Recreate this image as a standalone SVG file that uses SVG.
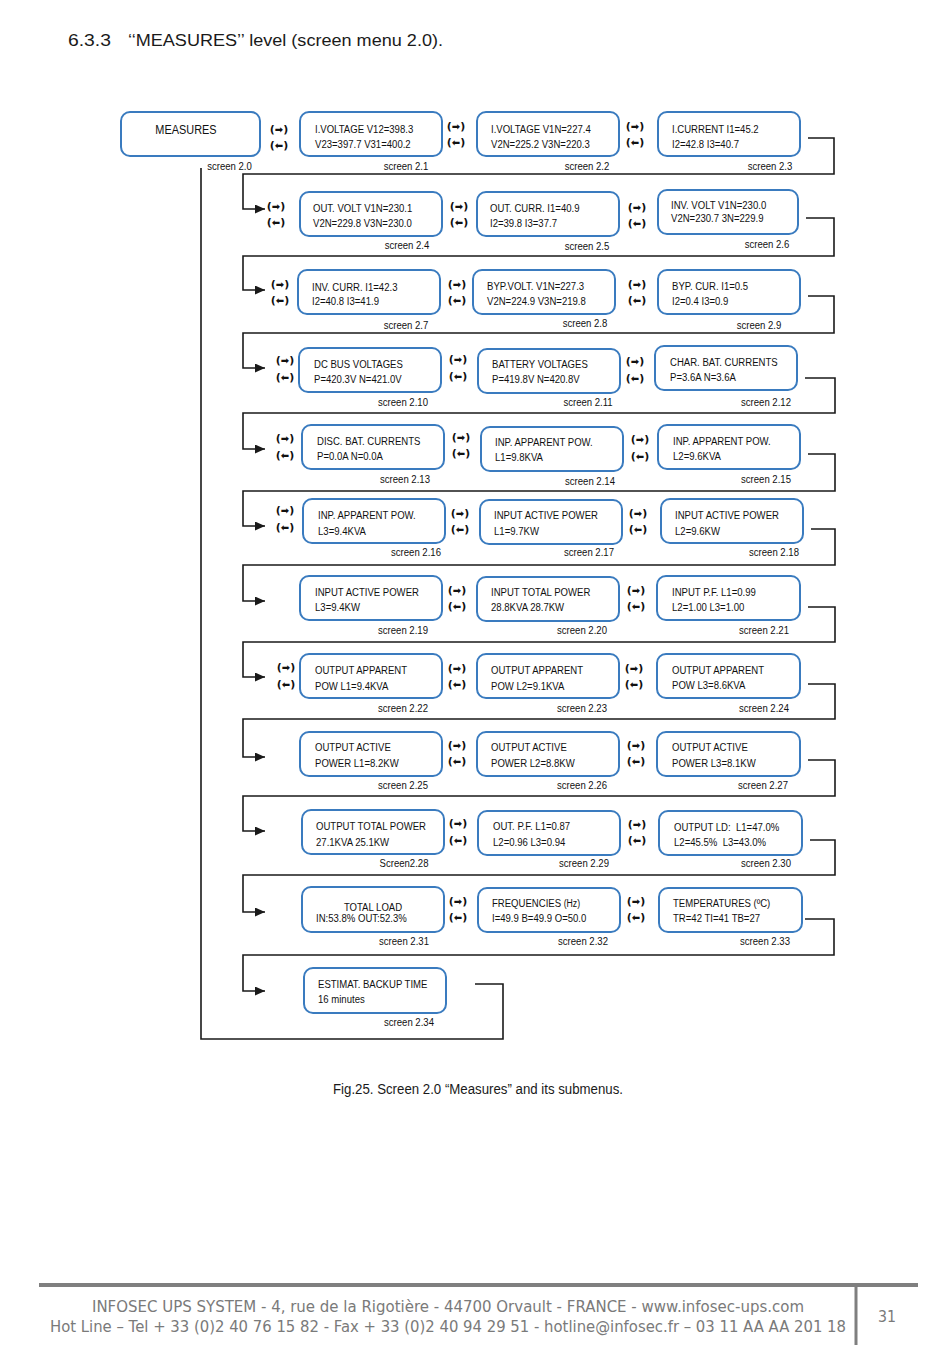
<svg xmlns="http://www.w3.org/2000/svg" width="950" height="1360" viewBox="0 0 950 1360">
<style>
.bg{fill:#fff}
.box{fill:#fff;stroke:#3a7bbf;stroke-width:2}
.t{font-family:"Liberation Sans",Arial,sans-serif;font-size:11px;fill:#111;white-space:pre}
.m{font-family:"Liberation Sans",Arial,sans-serif;font-size:13px;fill:#111;text-anchor:middle}
.lb{font-family:"Liberation Sans",Arial,sans-serif;font-size:11px;fill:#111;text-anchor:middle}
.ar{font-family:"DejaVu Sans",sans-serif;font-weight:bold;font-size:11px;fill:#111;text-anchor:middle}
.ag{font-size:10px}
.cn{fill:none;stroke:#1a1a1a;stroke-width:1.6}
.ti{font-family:"Liberation Sans",Arial,sans-serif;font-size:16px;fill:#1a1a1a}
.cap{font-family:"Liberation Sans",Arial,sans-serif;font-size:14px;fill:#1a1a1a}
.ft{font-family:"DejaVu Sans",sans-serif;font-size:15px;fill:#7a7a7a}
</style>
<defs>
<marker id="ah" markerWidth="10" markerHeight="9" refX="10" refY="4.5" orient="auto" markerUnits="userSpaceOnUse">
<path d="M0,0 L10,4.5 L0,9 z" fill="#1a1a1a"/>
</marker>
</defs>
<rect class="bg" x="0" y="0" width="950" height="1360"/>

<text class="ti" x="68" y="46" textLength="43" lengthAdjust="spacingAndGlyphs">6.3.3</text>
<text class="ti" x="128" y="46" textLength="315" lengthAdjust="spacingAndGlyphs">‘‘MEASURES’’ level (screen menu 2.0).</text>

<g id="connectors">
<path class="cn" d="M808 138 H834 V174 H243 V209 H265" marker-end="url(#ah)"/>
<path class="cn" d="M806 218 H834 V256 H243 V290 H265" marker-end="url(#ah)"/>
<path class="cn" d="M808 296 H834 V333 H243 V368 H265" marker-end="url(#ah)"/>
<path class="cn" d="M805 378 H835 V413 H243 V449 H265" marker-end="url(#ah)"/>
<path class="cn" d="M808 454 H835 V491 H243 V526 H265" marker-end="url(#ah)"/>
<path class="cn" d="M811 529 H835 V565 H243 V601 H265" marker-end="url(#ah)"/>
<path class="cn" d="M808 607 H835 V642 H243 V677 H265" marker-end="url(#ah)"/>
<path class="cn" d="M808 684 H835 V719 H243 V757 H265" marker-end="url(#ah)"/>
<path class="cn" d="M808 760 H835 V796 H243 V831 H265" marker-end="url(#ah)"/>
<path class="cn" d="M810 840 H835 V875 H243 V912 H265" marker-end="url(#ah)"/>
<path class="cn" d="M805 919 H834 V955 H243 V991 H265" marker-end="url(#ah)"/>
<path class="cn" d="M475 984 H503 V1039 H201 V168"/>
</g>

<g id="nav-arrows">
<text class="ar" x="279" y="133">(<tspan class="ag">➡</tspan>)</text><text class="ar" x="279" y="149">(<tspan class="ag">⬅</tspan>)</text>
<text class="ar" x="456" y="130">(<tspan class="ag">➡</tspan>)</text><text class="ar" x="456" y="146">(<tspan class="ag">⬅</tspan>)</text>
<text class="ar" x="635" y="130">(<tspan class="ag">➡</tspan>)</text><text class="ar" x="635" y="146">(<tspan class="ag">⬅</tspan>)</text>
<text class="ar" x="276" y="210">(<tspan class="ag">➡</tspan>)</text><text class="ar" x="276" y="226">(<tspan class="ag">⬅</tspan>)</text>
<text class="ar" x="459" y="210">(<tspan class="ag">➡</tspan>)</text><text class="ar" x="459" y="226">(<tspan class="ag">⬅</tspan>)</text>
<text class="ar" x="637" y="211">(<tspan class="ag">➡</tspan>)</text><text class="ar" x="637" y="227">(<tspan class="ag">⬅</tspan>)</text>
<text class="ar" x="280" y="288">(<tspan class="ag">➡</tspan>)</text><text class="ar" x="280" y="304">(<tspan class="ag">⬅</tspan>)</text>
<text class="ar" x="457" y="288">(<tspan class="ag">➡</tspan>)</text><text class="ar" x="457" y="304">(<tspan class="ag">⬅</tspan>)</text>
<text class="ar" x="637" y="288">(<tspan class="ag">➡</tspan>)</text><text class="ar" x="637" y="304">(<tspan class="ag">⬅</tspan>)</text>
<text class="ar" x="285" y="364">(<tspan class="ag">➡</tspan>)</text><text class="ar" x="285" y="381">(<tspan class="ag">⬅</tspan>)</text>
<text class="ar" x="458" y="363">(<tspan class="ag">➡</tspan>)</text><text class="ar" x="458" y="380">(<tspan class="ag">⬅</tspan>)</text>
<text class="ar" x="635" y="365">(<tspan class="ag">➡</tspan>)</text><text class="ar" x="635" y="382">(<tspan class="ag">⬅</tspan>)</text>
<text class="ar" x="285" y="442">(<tspan class="ag">➡</tspan>)</text><text class="ar" x="285" y="459">(<tspan class="ag">⬅</tspan>)</text>
<text class="ar" x="461" y="441">(<tspan class="ag">➡</tspan>)</text><text class="ar" x="461" y="457">(<tspan class="ag">⬅</tspan>)</text>
<text class="ar" x="640" y="443">(<tspan class="ag">➡</tspan>)</text><text class="ar" x="640" y="460">(<tspan class="ag">⬅</tspan>)</text>
<text class="ar" x="285" y="514">(<tspan class="ag">➡</tspan>)</text><text class="ar" x="285" y="531">(<tspan class="ag">⬅</tspan>)</text>
<text class="ar" x="460" y="517">(<tspan class="ag">➡</tspan>)</text><text class="ar" x="460" y="533">(<tspan class="ag">⬅</tspan>)</text>
<text class="ar" x="638" y="517">(<tspan class="ag">➡</tspan>)</text><text class="ar" x="638" y="533">(<tspan class="ag">⬅</tspan>)</text>
<text class="ar" x="457" y="594">(<tspan class="ag">➡</tspan>)</text><text class="ar" x="457" y="610">(<tspan class="ag">⬅</tspan>)</text>
<text class="ar" x="636" y="594">(<tspan class="ag">➡</tspan>)</text><text class="ar" x="636" y="610">(<tspan class="ag">⬅</tspan>)</text>
<text class="ar" x="286" y="671">(<tspan class="ag">➡</tspan>)</text><text class="ar" x="286" y="688">(<tspan class="ag">⬅</tspan>)</text>
<text class="ar" x="457" y="672">(<tspan class="ag">➡</tspan>)</text><text class="ar" x="457" y="688">(<tspan class="ag">⬅</tspan>)</text>
<text class="ar" x="634" y="672">(<tspan class="ag">➡</tspan>)</text><text class="ar" x="634" y="688">(<tspan class="ag">⬅</tspan>)</text>
<text class="ar" x="457" y="749">(<tspan class="ag">➡</tspan>)</text><text class="ar" x="457" y="765">(<tspan class="ag">⬅</tspan>)</text>
<text class="ar" x="636" y="749">(<tspan class="ag">➡</tspan>)</text><text class="ar" x="636" y="765">(<tspan class="ag">⬅</tspan>)</text>
<text class="ar" x="458" y="827">(<tspan class="ag">➡</tspan>)</text><text class="ar" x="458" y="844">(<tspan class="ag">⬅</tspan>)</text>
<text class="ar" x="637" y="828">(<tspan class="ag">➡</tspan>)</text><text class="ar" x="637" y="844">(<tspan class="ag">⬅</tspan>)</text>
<text class="ar" x="458" y="905">(<tspan class="ag">➡</tspan>)</text><text class="ar" x="458" y="921">(<tspan class="ag">⬅</tspan>)</text>
<text class="ar" x="636" y="905">(<tspan class="ag">➡</tspan>)</text><text class="ar" x="636" y="921">(<tspan class="ag">⬅</tspan>)</text>
</g>

<g id="s2_0"><rect class="box" x="121" y="112" width="139" height="44" rx="9"/>
<text class="m" transform="translate(186 134) scale(.84 1)">MEASURES</text>
<text class="lb" transform="translate(229.5 170) scale(.87 1)">screen 2.0</text></g>

<g id="s2_1"><rect class="box" x="300" y="112" width="142" height="44" rx="9"/>
<text class="t" transform="translate(315 133) scale(.87 1)">I.VOLTAGE V12=398.3</text>
<text class="t" transform="translate(315 148) scale(.87 1)">V23=397.7 V31=400.2</text>
<text class="lb" transform="translate(406 170) scale(.87 1)">screen 2.1</text></g>

<g id="s2_2"><rect class="box" x="477" y="112" width="142" height="44" rx="9"/>
<text class="t" transform="translate(491 133) scale(.87 1)">I.VOLTAGE V1N=227.4</text>
<text class="t" transform="translate(491 148) scale(.87 1)">V2N=225.2 V3N=220.3</text>
<text class="lb" transform="translate(587 170) scale(.87 1)">screen 2.2</text></g>

<g id="s2_3"><rect class="box" x="658" y="112" width="142" height="44" rx="9"/>
<text class="t" transform="translate(672 133) scale(.87 1)">I.CURRENT I1=45.2</text>
<text class="t" transform="translate(672 148) scale(.87 1)">I2=42.8 I3=40.7</text>
<text class="lb" transform="translate(770 170) scale(.87 1)">screen 2.3</text></g>

<g id="s2_4"><rect class="box" x="300" y="192" width="142" height="44" rx="9"/>
<text class="t" transform="translate(313 212) scale(.87 1)">OUT. VOLT V1N=230.1</text>
<text class="t" transform="translate(313 227) scale(.87 1)">V2N=229.8 V3N=230.0</text>
<text class="lb" transform="translate(407 249) scale(.87 1)">screen 2.4</text></g>

<g id="s2_5"><rect class="box" x="477" y="192" width="142" height="44" rx="9"/>
<text class="t" transform="translate(490 212) scale(.87 1)">OUT. CURR. I1=40.9</text>
<text class="t" transform="translate(490 227) scale(.87 1)">I2=39.8 I3=37.7</text>
<text class="lb" transform="translate(587 250) scale(.87 1)">screen 2.5</text></g>

<g id="s2_6"><rect class="box" x="658" y="190" width="140" height="44" rx="9"/>
<text class="t" transform="translate(671 209) scale(.87 1)">INV. VOLT V1N=230.0</text>
<text class="t" transform="translate(671 222) scale(.87 1)">V2N=230.7 3N=229.9</text>
<text class="lb" transform="translate(767 248) scale(.87 1)">screen 2.6</text></g>

<g id="s2_7"><rect class="box" x="298" y="270" width="142" height="44" rx="9"/>
<text class="t" transform="translate(312 291) scale(.87 1)">INV. CURR. I1=42.3</text>
<text class="t" transform="translate(312 305) scale(.87 1)">I2=40.8 I3=41.9</text>
<text class="lb" transform="translate(406 329) scale(.87 1)">screen 2.7</text></g>

<g id="s2_8"><rect class="box" x="473" y="270" width="142" height="44" rx="9"/>
<text class="t" transform="translate(487 290) scale(.87 1)">BYP.VOLT. V1N=227.3</text>
<text class="t" transform="translate(487 305) scale(.87 1)">V2N=224.9 V3N=219.8</text>
<text class="lb" transform="translate(585 327) scale(.87 1)">screen 2.8</text></g>

<g id="s2_9"><rect class="box" x="658" y="270" width="142" height="44" rx="9"/>
<text class="t" transform="translate(672 290) scale(.87 1)">BYP. CUR. I1=0.5</text>
<text class="t" transform="translate(672 305) scale(.87 1)">I2=0.4 I3=0.9</text>
<text class="lb" transform="translate(759 329) scale(.87 1)">screen 2.9</text></g>

<g id="s2_10"><rect class="box" x="299" y="348" width="142" height="44" rx="9"/>
<text class="t" transform="translate(314 368) scale(.87 1)">DC BUS VOLTAGES</text>
<text class="t" transform="translate(314 383) scale(.87 1)">P=420.3V N=421.0V</text>
<text class="lb" transform="translate(403 406) scale(.87 1)">screen 2.10</text></g>

<g id="s2_11"><rect class="box" x="478" y="349" width="142" height="44" rx="9"/>
<text class="t" transform="translate(492 368) scale(.87 1)">BATTERY VOLTAGES</text>
<text class="t" transform="translate(492 383) scale(.87 1)">P=419.8V N=420.8V</text>
<text class="lb" transform="translate(588 406) scale(.87 1)">screen 2.11</text></g>

<g id="s2_12"><rect class="box" x="655" y="346" width="142" height="44" rx="9"/>
<text class="t" transform="translate(670 366) scale(.87 1)">CHAR. BAT. CURRENTS</text>
<text class="t" transform="translate(670 381) scale(.87 1)">P=3.6A N=3.6A</text>
<text class="lb" transform="translate(766 406) scale(.87 1)">screen 2.12</text></g>

<g id="s2_13"><rect class="box" x="302" y="425" width="142" height="44" rx="9"/>
<text class="t" transform="translate(317 445) scale(.87 1)">DISC. BAT. CURRENTS</text>
<text class="t" transform="translate(317 460) scale(.87 1)">P=0.0A N=0.0A</text>
<text class="lb" transform="translate(405 483) scale(.87 1)">screen 2.13</text></g>

<g id="s2_14"><rect class="box" x="481" y="427" width="142" height="44" rx="9"/>
<text class="t" transform="translate(495 446) scale(.87 1)">INP. APPARENT POW.</text>
<text class="t" transform="translate(495 461) scale(.87 1)">L1=9.8KVA</text>
<text class="lb" transform="translate(590 485) scale(.87 1)">screen 2.14</text></g>

<g id="s2_15"><rect class="box" x="658" y="425" width="142" height="44" rx="9"/>
<text class="t" transform="translate(673 445) scale(.87 1)">INP. APPARENT POW.</text>
<text class="t" transform="translate(673 460) scale(.87 1)">L2=9.6KVA</text>
<text class="lb" transform="translate(766 483) scale(.87 1)">screen 2.15</text></g>

<g id="s2_16"><rect class="box" x="303" y="499" width="142" height="44" rx="9"/>
<text class="t" transform="translate(318 519) scale(.87 1)">INP. APPARENT POW.</text>
<text class="t" transform="translate(318 535) scale(.87 1)">L3=9.4KVA</text>
<text class="lb" transform="translate(416 556) scale(.87 1)">screen 2.16</text></g>

<g id="s2_17"><rect class="box" x="480" y="500" width="142" height="44" rx="9"/>
<text class="t" transform="translate(494 519) scale(.87 1)">INPUT ACTIVE POWER</text>
<text class="t" transform="translate(494 535) scale(.87 1)">L1=9.7KW</text>
<text class="lb" transform="translate(589 556) scale(.87 1)">screen 2.17</text></g>

<g id="s2_18"><rect class="box" x="661" y="499" width="142" height="44" rx="9"/>
<text class="t" transform="translate(675 519) scale(.87 1)">INPUT ACTIVE POWER</text>
<text class="t" transform="translate(675 535) scale(.87 1)">L2=9.6KW</text>
<text class="lb" transform="translate(774 556) scale(.87 1)">screen 2.18</text></g>

<g id="s2_19"><rect class="box" x="300" y="576" width="142" height="44" rx="9"/>
<text class="t" transform="translate(315 596) scale(.87 1)">INPUT ACTIVE POWER</text>
<text class="t" transform="translate(315 611) scale(.87 1)">L3=9.4KW</text>
<text class="lb" transform="translate(403 634) scale(.87 1)">screen 2.19</text></g>

<g id="s2_20"><rect class="box" x="477" y="577" width="142" height="44" rx="9"/>
<text class="t" transform="translate(491 596) scale(.87 1)">INPUT TOTAL POWER</text>
<text class="t" transform="translate(491 611) scale(.87 1)">28.8KVA 28.7KW</text>
<text class="lb" transform="translate(582 634) scale(.87 1)">screen 2.20</text></g>

<g id="s2_21"><rect class="box" x="657" y="576" width="143" height="44" rx="9"/>
<text class="t" transform="translate(672 596) scale(.87 1)">INPUT P.F. L1=0.99</text>
<text class="t" transform="translate(672 611) scale(.87 1)">L2=1.00 L3=1.00</text>
<text class="lb" transform="translate(764 634) scale(.87 1)">screen 2.21</text></g>

<g id="s2_22"><rect class="box" x="300" y="654" width="142" height="44" rx="9"/>
<text class="t" transform="translate(315 674) scale(.87 1)">OUTPUT APPARENT</text>
<text class="t" transform="translate(315 690) scale(.87 1)">POW L1=9.4KVA</text>
<text class="lb" transform="translate(403 712) scale(.87 1)">screen 2.22</text></g>

<g id="s2_23"><rect class="box" x="477" y="654" width="142" height="44" rx="9"/>
<text class="t" transform="translate(491 674) scale(.87 1)">OUTPUT APPARENT</text>
<text class="t" transform="translate(491 690) scale(.87 1)">POW L2=9.1KVA</text>
<text class="lb" transform="translate(582 712) scale(.87 1)">screen 2.23</text></g>

<g id="s2_24"><rect class="box" x="657" y="654" width="143" height="44" rx="9"/>
<text class="t" transform="translate(672 674) scale(.87 1)">OUTPUT APPARENT</text>
<text class="t" transform="translate(672 689) scale(.87 1)">POW L3=8.6KVA</text>
<text class="lb" transform="translate(764 712) scale(.87 1)">screen 2.24</text></g>

<g id="s2_25"><rect class="box" x="300" y="732" width="142" height="44" rx="9"/>
<text class="t" transform="translate(315 751) scale(.87 1)">OUTPUT ACTIVE</text>
<text class="t" transform="translate(315 767) scale(.87 1)">POWER L1=8.2KW</text>
<text class="lb" transform="translate(403 789) scale(.87 1)">screen 2.25</text></g>

<g id="s2_26"><rect class="box" x="477" y="732" width="142" height="44" rx="9"/>
<text class="t" transform="translate(491 751) scale(.87 1)">OUTPUT ACTIVE</text>
<text class="t" transform="translate(491 767) scale(.87 1)">POWER L2=8.8KW</text>
<text class="lb" transform="translate(582 789) scale(.87 1)">screen 2.26</text></g>

<g id="s2_27"><rect class="box" x="657" y="732" width="143" height="44" rx="9"/>
<text class="t" transform="translate(672 751) scale(.87 1)">OUTPUT ACTIVE</text>
<text class="t" transform="translate(672 767) scale(.87 1)">POWER L3=8.1KW</text>
<text class="lb" transform="translate(763 789) scale(.87 1)">screen 2.27</text></g>

<g id="s2_28"><rect class="box" x="302" y="810" width="142" height="44" rx="9"/>
<text class="t" transform="translate(316 830) scale(.87 1)">OUTPUT TOTAL POWER</text>
<text class="t" transform="translate(316 846) scale(.87 1)">27.1KVA 25.1KW</text>
<text class="lb" transform="translate(404 867) scale(.87 1)">Screen2.28</text></g>

<g id="s2_29"><rect class="box" x="478" y="811" width="142" height="44" rx="9"/>
<text class="t" transform="translate(493 830) scale(.87 1)">OUT. P.F. L1=0.87</text>
<text class="t" transform="translate(493 846) scale(.87 1)">L2=0.96 L3=0.94</text>
<text class="lb" transform="translate(584 867) scale(.87 1)">screen 2.29</text></g>

<g id="s2_30"><rect class="box" x="659" y="811" width="143" height="44" rx="9"/>
<text class="t" transform="translate(674 831) scale(.87 1)">OUTPUT LD:  L1=47.0%</text>
<text class="t" transform="translate(674 846) scale(.87 1)">L2=45.5%  L3=43.0%</text>
<text class="lb" transform="translate(766 867) scale(.87 1)">screen 2.30</text></g>

<g id="s2_31"><rect class="box" x="302" y="887" width="142" height="45" rx="9"/>
<text class="lb" transform="translate(373 911) scale(.87 1)">TOTAL LOAD</text>
<text class="t" transform="translate(316 922) scale(.87 1)">IN:53.8% OUT:52.3%</text>
<text class="lb" transform="translate(404 945) scale(.87 1)">screen 2.31</text></g>

<g id="s2_32"><rect class="box" x="478" y="888" width="142" height="44" rx="9"/>
<text class="t" transform="translate(492 907) scale(.87 1)">FREQUENCIES <tspan font-size="10">(Hz)</tspan></text>
<text class="t" transform="translate(492 922) scale(.87 1)">I=49.9 B=49.9 O=50.0</text>
<text class="lb" transform="translate(583 945) scale(.87 1)">screen 2.32</text></g>

<g id="s2_33"><rect class="box" x="659" y="888" width="143" height="44" rx="9"/>
<text class="t" transform="translate(673 907) scale(.87 1)">TEMPERATURES (ºC)</text>
<text class="t" transform="translate(673 922) scale(.87 1)">TR=42 TI=41 TB=27</text>
<text class="lb" transform="translate(765 945) scale(.87 1)">screen 2.33</text></g>

<g id="s2_34"><rect class="box" x="304" y="968" width="142" height="45" rx="9"/>
<text class="t" transform="translate(318 988) scale(.87 1)">ESTIMAT. BACKUP TIME</text>
<text class="t" transform="translate(318 1003) scale(.87 1)">16 minutes</text>
<text class="lb" transform="translate(409 1026) scale(.87 1)">screen 2.34</text></g>

<text class="cap" x="333" y="1094" textLength="290" lengthAdjust="spacingAndGlyphs">Fig.25. Screen 2.0 “Measures” and its submenus.</text>

<g id="footer">
<line x1="39" y1="1285" x2="918" y2="1285" stroke="#7f7f7f" stroke-width="4"/>
<line x1="856" y1="1287" x2="856" y2="1345" stroke="#7f7f7f" stroke-width="3"/>
<text class="ft" x="92" y="1312" textLength="712" lengthAdjust="spacingAndGlyphs">INFOSEC UPS SYSTEM - 4, rue de la Rigotière - 44700 Orvault - FRANCE -  www.infosec-ups.com</text>
<text class="ft" x="50" y="1332" textLength="796" lengthAdjust="spacingAndGlyphs">Hot Line – Tel + 33 (0)2 40 76 15 82 - Fax + 33 (0)2 40 94 29 51 - hotline@infosec.fr – 03 11 AA AA 201 18</text>
<text class="ft" x="878" y="1322" textLength="18" lengthAdjust="spacingAndGlyphs">31</text>
</g>
</svg>
